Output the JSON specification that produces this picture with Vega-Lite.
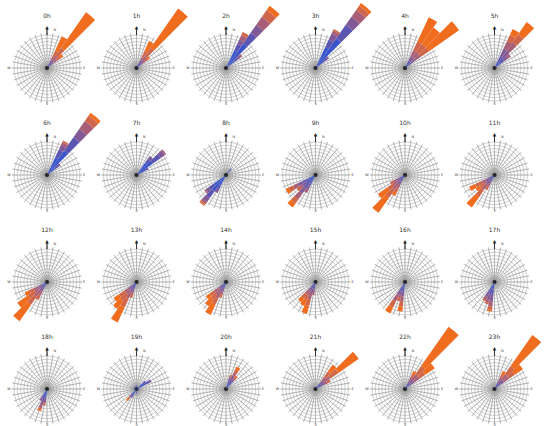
{
"$schema":"https://vega.github.io/schema/vega-lite/v6.json",
"padding":{"left":7,"top":2,"right":0,"bottom":0},
"background":"white",
"bounds":"flush",
"config":{"view":{"stroke":null},"font":"DejaVu Sans"},
"data":{"values":[
{"h":["0h","1h","2h","3h","4h","5h","6h","7h","8h","9h","10h","11h","12h","13h","14h","15h","16h","17h","18h","19h","20h","21h","22h","23h"],"a":0,"r":10},
{"h":["0h","1h","2h","3h","4h","5h","6h","7h","8h","9h","10h","11h","12h","13h","14h","15h","16h","17h","18h","19h","20h","21h","22h","23h"],"a":10,"r":9},
{"h":["0h","1h","2h","3h","4h","5h","6h","7h","8h","9h","10h","11h","12h","13h","14h","15h","16h","17h","18h","19h","20h","21h","22h","23h"],"a":20,"r":8},
{"h":["0h","1h","2h","3h","4h","5h","6h","7h","8h","9h","10h","11h","12h","13h","14h","15h","16h","17h","18h","19h","20h","21h","22h","23h"],"a":30,"r":7},
{"h":["0h","1h","2h","3h","4h","5h","6h","7h","8h","9h","10h","11h","12h","13h","14h","15h","16h","17h","18h","19h","20h","21h","22h","23h"],"a":40,"r":6},
{"h":["0h","1h","2h","3h","4h","5h","6h","7h","8h","9h","10h","11h","12h","13h","14h","15h","16h","17h","18h","19h","20h","21h","22h","23h"],"a":50,"r":5},
{"h":["0h","1h","2h","3h","4h","5h","6h","7h","8h","9h","10h","11h","12h","13h","14h","15h","16h","17h","18h","19h","20h","21h","22h","23h"],"a":60,"r":4},
{"h":["0h","1h","2h","3h","4h","5h","6h","7h","8h","9h","10h","11h","12h","13h","14h","15h","16h","17h","18h","19h","20h","21h","22h","23h"],"a":70,"r":3},
{"h":["0h","1h","2h","3h","4h","5h","6h","7h","8h","9h","10h","11h","12h","13h","14h","15h","16h","17h","18h","19h","20h","21h","22h","23h"],"a":80,"r":2},
{"h":["0h","1h","2h","3h","4h","5h","6h","7h","8h","9h","10h","11h","12h","13h","14h","15h","16h","17h","18h","19h","20h","21h","22h","23h"],"a":90,"r":1.5},
{"h":["0h","1h","2h","3h","4h","5h","6h","7h","8h","9h","10h","11h","12h","13h","14h","15h","16h","17h","18h","19h","20h","21h","22h","23h"],"a":100,"r":1},
{"h":["0h","1h","2h","3h","4h","5h","6h","7h","8h","9h","10h","11h","12h","13h","14h","15h","16h","17h","18h","19h","20h","21h","22h","23h"],"a":110,"r":0.75},
{"h":["0h","1h","2h","3h","4h","5h","6h","7h","8h","9h","10h","11h","12h","13h","14h","15h","16h","17h","18h","19h","20h","21h","22h","23h"],"a":120,"r":0.5},
{"h":["0h","1h","2h","3h","4h","5h","6h","7h","8h","9h","10h","11h","12h","13h","14h","15h","16h","17h","18h","19h","20h","21h","22h","23h"],"a":130,"r":0.25},
{"h":["0h","1h","2h","3h","4h","5h","6h","7h","8h","9h","10h","11h","12h","13h","14h","15h","16h","17h","18h","19h","20h","21h","22h","23h"],"a":140},
{"h":["0h","1h","2h","3h","4h","5h","6h","7h","8h","9h","10h","11h","12h","13h","14h","15h","16h","17h","18h","19h","20h","21h","22h","23h"],"a":150},
{"h":["0h","1h","2h","3h","4h","5h","6h","7h","8h","9h","10h","11h","12h","13h","14h","15h","16h","17h","18h","19h","20h","21h","22h","23h"],"a":160},
{"h":["0h","1h","2h","3h","4h","5h","6h","7h","8h","9h","10h","11h","12h","13h","14h","15h","16h","17h","18h","19h","20h","21h","22h","23h"],"a":170},
{"h":["0h","1h","2h","3h","4h","5h","6h","7h","8h","9h","10h","11h","12h","13h","14h","15h","16h","17h","18h","19h","20h","21h","22h","23h"],"a":180},
{"h":["0h","1h","2h","3h","4h","5h","6h","7h","8h","9h","10h","11h","12h","13h","14h","15h","16h","17h","18h","19h","20h","21h","22h","23h"],"a":190},
{"h":["0h","1h","2h","3h","4h","5h","6h","7h","8h","9h","10h","11h","12h","13h","14h","15h","16h","17h","18h","19h","20h","21h","22h","23h"],"a":200},
{"h":["0h","1h","2h","3h","4h","5h","6h","7h","8h","9h","10h","11h","12h","13h","14h","15h","16h","17h","18h","19h","20h","21h","22h","23h"],"a":210},
{"h":["0h","1h","2h","3h","4h","5h","6h","7h","8h","9h","10h","11h","12h","13h","14h","15h","16h","17h","18h","19h","20h","21h","22h","23h"],"a":220},
{"h":["0h","1h","2h","3h","4h","5h","6h","7h","8h","9h","10h","11h","12h","13h","14h","15h","16h","17h","18h","19h","20h","21h","22h","23h"],"a":230},
{"h":["0h","1h","2h","3h","4h","5h","6h","7h","8h","9h","10h","11h","12h","13h","14h","15h","16h","17h","18h","19h","20h","21h","22h","23h"],"a":240},
{"h":["0h","1h","2h","3h","4h","5h","6h","7h","8h","9h","10h","11h","12h","13h","14h","15h","16h","17h","18h","19h","20h","21h","22h","23h"],"a":250},
{"h":["0h","1h","2h","3h","4h","5h","6h","7h","8h","9h","10h","11h","12h","13h","14h","15h","16h","17h","18h","19h","20h","21h","22h","23h"],"a":260},
{"h":["0h","1h","2h","3h","4h","5h","6h","7h","8h","9h","10h","11h","12h","13h","14h","15h","16h","17h","18h","19h","20h","21h","22h","23h"],"a":270},
{"h":["0h","1h","2h","3h","4h","5h","6h","7h","8h","9h","10h","11h","12h","13h","14h","15h","16h","17h","18h","19h","20h","21h","22h","23h"],"a":280},
{"h":["0h","1h","2h","3h","4h","5h","6h","7h","8h","9h","10h","11h","12h","13h","14h","15h","16h","17h","18h","19h","20h","21h","22h","23h"],"a":290},
{"h":["0h","1h","2h","3h","4h","5h","6h","7h","8h","9h","10h","11h","12h","13h","14h","15h","16h","17h","18h","19h","20h","21h","22h","23h"],"a":300},
{"h":["0h","1h","2h","3h","4h","5h","6h","7h","8h","9h","10h","11h","12h","13h","14h","15h","16h","17h","18h","19h","20h","21h","22h","23h"],"a":310},
{"h":["0h","1h","2h","3h","4h","5h","6h","7h","8h","9h","10h","11h","12h","13h","14h","15h","16h","17h","18h","19h","20h","21h","22h","23h"],"a":320},
{"h":["0h","1h","2h","3h","4h","5h","6h","7h","8h","9h","10h","11h","12h","13h","14h","15h","16h","17h","18h","19h","20h","21h","22h","23h"],"a":330},
{"h":["0h","1h","2h","3h","4h","5h","6h","7h","8h","9h","10h","11h","12h","13h","14h","15h","16h","17h","18h","19h","20h","21h","22h","23h"],"a":340},
{"h":["0h","1h","2h","3h","4h","5h","6h","7h","8h","9h","10h","11h","12h","13h","14h","15h","16h","17h","18h","19h","20h","21h","22h","23h"],"a":350},

{"h":["0h"],"d":40,"c":1,"f":1},{"h":["0h"],"d":40,"c":2,"f":1},{"h":["0h"],"d":40,"c":3,"f":1},{"h":["0h"],"d":40,"c":4,"f":1.5},{"h":["0h"],"d":40,"c":5,"f":3},{"h":["0h"],"d":40,"c":6,"f":13.1},
{"h":["0h"],"d":30,"c":1,"f":0.8},{"h":["0h"],"d":30,"c":2,"f":0.8},{"h":["0h"],"d":30,"c":3,"f":1},{"h":["0h"],"d":30,"c":4,"f":1.2},{"h":["0h"],"d":30,"c":5,"f":2},{"h":["0h"],"d":30,"c":6,"f":4.8},
{"h":["0h"],"d":50,"c":1,"f":0.8},{"h":["0h"],"d":50,"c":2,"f":0.8},{"h":["0h"],"d":50,"c":3,"f":1},{"h":["0h"],"d":50,"c":4,"f":1.2},{"h":["0h"],"d":50,"c":5,"f":1.2},{"h":["0h"],"d":50,"c":6,"f":1},

{"h":["1h"],"d":40,"c":1,"f":1},{"h":["1h"],"d":40,"c":2,"f":1},{"h":["1h"],"d":40,"c":3,"f":1},{"h":["1h"],"d":40,"c":4,"f":1.5},{"h":["1h"],"d":40,"c":5,"f":3},{"h":["1h"],"d":40,"c":6,"f":14.5},
{"h":["1h"],"d":30,"c":1,"f":0.8},{"h":["1h"],"d":30,"c":2,"f":0.8},{"h":["1h"],"d":30,"c":3,"f":1},{"h":["1h"],"d":30,"c":4,"f":1.2},{"h":["1h"],"d":30,"c":5,"f":2},{"h":["1h"],"d":30,"c":6,"f":3.2},
{"h":["1h"],"d":50,"c":1,"f":0.8},{"h":["1h"],"d":50,"c":2,"f":0.8},{"h":["1h"],"d":50,"c":3,"f":0.8},{"h":["1h"],"d":50,"c":4,"f":1},{"h":["1h"],"d":50,"c":5,"f":1},{"h":["1h"],"d":50,"c":6,"f":0.6},

{"h":["2h"],"d":40,"c":1,"f":9},{"h":["2h"],"d":40,"c":2,"f":4},{"h":["2h"],"d":40,"c":3,"f":3},{"h":["2h"],"d":40,"c":4,"f":3},{"h":["2h"],"d":40,"c":5,"f":2.5},{"h":["2h"],"d":40,"c":6,"f":1.5},
{"h":["2h"],"d":30,"c":1,"f":6},{"h":["2h"],"d":30,"c":2,"f":2},{"h":["2h"],"d":30,"c":3,"f":1.5},{"h":["2h"],"d":30,"c":4,"f":1.5},{"h":["2h"],"d":30,"c":5,"f":1},
{"h":["2h"],"d":50,"c":1,"f":3},{"h":["2h"],"d":50,"c":2,"f":1.5},{"h":["2h"],"d":50,"c":3,"f":1},{"h":["2h"],"d":50,"c":4,"f":0.5},

{"h":["3h"],"d":40,"c":1,"f":11},{"h":["3h"],"d":40,"c":2,"f":5},{"h":["3h"],"d":40,"c":3,"f":3},{"h":["3h"],"d":40,"c":4,"f":2.5},{"h":["3h"],"d":40,"c":5,"f":1.5},{"h":["3h"],"d":40,"c":6,"f":1},
{"h":["3h"],"d":30,"c":1,"f":7},{"h":["3h"],"d":30,"c":2,"f":2.5},{"h":["3h"],"d":30,"c":3,"f":2},{"h":["3h"],"d":30,"c":4,"f":1},{"h":["3h"],"d":30,"c":5,"f":0.5},
{"h":["3h"],"d":50,"c":1,"f":3},{"h":["3h"],"d":50,"c":2,"f":1.5},{"h":["3h"],"d":50,"c":3,"f":0.5},

{"h":["4h"],"d":30,"c":1,"f":1.2},{"h":["4h"],"d":30,"c":2,"f":1.2},{"h":["4h"],"d":30,"c":3,"f":1.5},{"h":["4h"],"d":30,"c":4,"f":2},{"h":["4h"],"d":30,"c":5,"f":3},{"h":["4h"],"d":30,"c":6,"f":8.1},
{"h":["4h"],"d":40,"c":1,"f":1.2},{"h":["4h"],"d":40,"c":2,"f":1.2},{"h":["4h"],"d":40,"c":3,"f":1.5},{"h":["4h"],"d":40,"c":4,"f":2},{"h":["4h"],"d":40,"c":5,"f":3},{"h":["4h"],"d":40,"c":6,"f":6.1},
{"h":["4h"],"d":50,"c":1,"f":1.2},{"h":["4h"],"d":50,"c":2,"f":1.2},{"h":["4h"],"d":50,"c":3,"f":1.5},{"h":["4h"],"d":50,"c":4,"f":2},{"h":["4h"],"d":50,"c":5,"f":3},{"h":["4h"],"d":50,"c":6,"f":11.1},

{"h":["5h"],"d":30,"c":1,"f":2},{"h":["5h"],"d":30,"c":2,"f":2},{"h":["5h"],"d":30,"c":3,"f":2.5},{"h":["5h"],"d":30,"c":4,"f":2.5},{"h":["5h"],"d":30,"c":5,"f":2},{"h":["5h"],"d":30,"c":6,"f":2},
{"h":["5h"],"d":40,"c":1,"f":2},{"h":["5h"],"d":40,"c":2,"f":2},{"h":["5h"],"d":40,"c":3,"f":2.5},{"h":["5h"],"d":40,"c":4,"f":3},{"h":["5h"],"d":40,"c":5,"f":3},{"h":["5h"],"d":40,"c":6,"f":4.5},
{"h":["5h"],"d":50,"c":1,"f":2},{"h":["5h"],"d":50,"c":2,"f":1.5},{"h":["5h"],"d":50,"c":3,"f":1.5},{"h":["5h"],"d":50,"c":4,"f":1},

{"h":["6h"],"d":40,"c":1,"f":9},{"h":["6h"],"d":40,"c":2,"f":5},{"h":["6h"],"d":40,"c":3,"f":3},{"h":["6h"],"d":40,"c":4,"f":3},{"h":["6h"],"d":40,"c":5,"f":2},{"h":["6h"],"d":40,"c":6,"f":1},
{"h":["6h"],"d":30,"c":1,"f":6},{"h":["6h"],"d":30,"c":2,"f":2.5},{"h":["6h"],"d":30,"c":3,"f":1.5},{"h":["6h"],"d":30,"c":4,"f":1},{"h":["6h"],"d":30,"c":5,"f":0.5},
{"h":["6h"],"d":50,"c":1,"f":3},{"h":["6h"],"d":50,"c":2,"f":1.5},{"h":["6h"],"d":50,"c":3,"f":0.5},

{"h":["7h"],"d":50,"c":1,"f":6},{"h":["7h"],"d":50,"c":2,"f":3},{"h":["7h"],"d":50,"c":3,"f":1.5},{"h":["7h"],"d":50,"c":4,"f":0.5},
{"h":["7h"],"d":40,"c":1,"f":4.5},{"h":["7h"],"d":40,"c":2,"f":1.5},{"h":["7h"],"d":40,"c":3,"f":1},
{"h":["7h"],"d":60,"c":1,"f":3},{"h":["7h"],"d":60,"c":2,"f":1},

{"h":["8h"],"d":220,"c":1,"f":6},{"h":["8h"],"d":220,"c":2,"f":2.5},{"h":["8h"],"d":220,"c":3,"f":1.5},{"h":["8h"],"d":220,"c":4,"f":0.8},{"h":["8h"],"d":220,"c":5,"f":0.4},{"h":["8h"],"d":220,"c":6,"f":0.3},
{"h":["8h"],"d":230,"c":1,"f":4.5},{"h":["8h"],"d":230,"c":2,"f":2},{"h":["8h"],"d":230,"c":3,"f":1},{"h":["8h"],"d":230,"c":4,"f":0.5},
{"h":["8h"],"d":210,"c":1,"f":3.5},{"h":["8h"],"d":210,"c":2,"f":1.5},{"h":["8h"],"d":210,"c":3,"f":1},
{"h":["8h"],"d":40,"c":1,"f":2},{"h":["8h"],"d":40,"c":2,"f":0.5},

{"h":["9h"],"d":220,"c":1,"f":3},{"h":["9h"],"d":220,"c":2,"f":2},{"h":["9h"],"d":220,"c":3,"f":2},{"h":["9h"],"d":220,"c":4,"f":2},{"h":["9h"],"d":220,"c":5,"f":1.5},{"h":["9h"],"d":220,"c":6,"f":1.5},
{"h":["9h"],"d":240,"c":1,"f":2.5},{"h":["9h"],"d":240,"c":2,"f":2},{"h":["9h"],"d":240,"c":3,"f":1.5},{"h":["9h"],"d":240,"c":4,"f":1.5},{"h":["9h"],"d":240,"c":5,"f":1.5},{"h":["9h"],"d":240,"c":6,"f":1},
{"h":["9h"],"d":230,"c":1,"f":2},{"h":["9h"],"d":230,"c":2,"f":1.5},{"h":["9h"],"d":230,"c":3,"f":1.5},{"h":["9h"],"d":230,"c":4,"f":1},{"h":["9h"],"d":230,"c":5,"f":1},
{"h":["9h"],"d":210,"c":1,"f":2},{"h":["9h"],"d":210,"c":2,"f":1.5},{"h":["9h"],"d":210,"c":3,"f":1.5},{"h":["9h"],"d":210,"c":4,"f":1},

{"h":["10h"],"d":220,"c":1,"f":1},{"h":["10h"],"d":220,"c":2,"f":1},{"h":["10h"],"d":220,"c":3,"f":1.5},{"h":["10h"],"d":220,"c":4,"f":2},{"h":["10h"],"d":220,"c":5,"f":3},{"h":["10h"],"d":220,"c":6,"f":5.5},
{"h":["10h"],"d":230,"c":1,"f":1},{"h":["10h"],"d":230,"c":2,"f":1},{"h":["10h"],"d":230,"c":3,"f":1},{"h":["10h"],"d":230,"c":4,"f":1.5},{"h":["10h"],"d":230,"c":5,"f":2},{"h":["10h"],"d":230,"c":6,"f":3.5},
{"h":["10h"],"d":210,"c":1,"f":1},{"h":["10h"],"d":210,"c":2,"f":1},{"h":["10h"],"d":210,"c":3,"f":1},{"h":["10h"],"d":210,"c":4,"f":1.5},{"h":["10h"],"d":210,"c":5,"f":1.5},{"h":["10h"],"d":210,"c":6,"f":1},
{"h":["10h"],"d":240,"c":1,"f":1},{"h":["10h"],"d":240,"c":2,"f":1},{"h":["10h"],"d":240,"c":3,"f":1},{"h":["10h"],"d":240,"c":4,"f":1},{"h":["10h"],"d":240,"c":5,"f":1},

{"h":["11h"],"d":220,"c":1,"f":1},{"h":["11h"],"d":220,"c":2,"f":1},{"h":["11h"],"d":220,"c":3,"f":1.5},{"h":["11h"],"d":220,"c":4,"f":2},{"h":["11h"],"d":220,"c":5,"f":2.5},{"h":["11h"],"d":220,"c":6,"f":4},
{"h":["11h"],"d":240,"c":1,"f":1},{"h":["11h"],"d":240,"c":2,"f":1},{"h":["11h"],"d":240,"c":3,"f":1},{"h":["11h"],"d":240,"c":4,"f":1.5},{"h":["11h"],"d":240,"c":5,"f":2},{"h":["11h"],"d":240,"c":6,"f":2},
{"h":["11h"],"d":230,"c":1,"f":1},{"h":["11h"],"d":230,"c":2,"f":1},{"h":["11h"],"d":230,"c":3,"f":1},{"h":["11h"],"d":230,"c":4,"f":1},{"h":["11h"],"d":230,"c":5,"f":1.5},{"h":["11h"],"d":230,"c":6,"f":1.5},
{"h":["11h"],"d":210,"c":1,"f":1},{"h":["11h"],"d":210,"c":2,"f":1},{"h":["11h"],"d":210,"c":3,"f":1},{"h":["11h"],"d":210,"c":4,"f":1},{"h":["11h"],"d":210,"c":5,"f":1},

{"h":["12h"],"d":220,"c":1,"f":1},{"h":["12h"],"d":220,"c":2,"f":1},{"h":["12h"],"d":220,"c":3,"f":1.5},{"h":["12h"],"d":220,"c":4,"f":2},{"h":["12h"],"d":220,"c":5,"f":3},{"h":["12h"],"d":220,"c":6,"f":6},
{"h":["12h"],"d":230,"c":1,"f":1},{"h":["12h"],"d":230,"c":2,"f":1},{"h":["12h"],"d":230,"c":3,"f":1},{"h":["12h"],"d":230,"c":4,"f":1.5},{"h":["12h"],"d":230,"c":5,"f":2.5},{"h":["12h"],"d":230,"c":6,"f":4},
{"h":["12h"],"d":240,"c":1,"f":1},{"h":["12h"],"d":240,"c":2,"f":1},{"h":["12h"],"d":240,"c":3,"f":1},{"h":["12h"],"d":240,"c":4,"f":1.5},{"h":["12h"],"d":240,"c":5,"f":1.5},{"h":["12h"],"d":240,"c":6,"f":1.5},
{"h":["12h"],"d":210,"c":1,"f":1},{"h":["12h"],"d":210,"c":2,"f":1},{"h":["12h"],"d":210,"c":3,"f":1},{"h":["12h"],"d":210,"c":4,"f":1.5},{"h":["12h"],"d":210,"c":5,"f":1.5},

{"h":["13h"],"d":210,"c":1,"f":1},{"h":["13h"],"d":210,"c":2,"f":1},{"h":["13h"],"d":210,"c":3,"f":1.5},{"h":["13h"],"d":210,"c":4,"f":2},{"h":["13h"],"d":210,"c":5,"f":3},{"h":["13h"],"d":210,"c":6,"f":5},
{"h":["13h"],"d":220,"c":1,"f":1},{"h":["13h"],"d":220,"c":2,"f":1},{"h":["13h"],"d":220,"c":3,"f":1},{"h":["13h"],"d":220,"c":4,"f":1.5},{"h":["13h"],"d":220,"c":5,"f":2.5},{"h":["13h"],"d":220,"c":6,"f":3},
{"h":["13h"],"d":230,"c":1,"f":1},{"h":["13h"],"d":230,"c":2,"f":1},{"h":["13h"],"d":230,"c":3,"f":1},{"h":["13h"],"d":230,"c":4,"f":1.5},{"h":["13h"],"d":230,"c":5,"f":2},{"h":["13h"],"d":230,"c":6,"f":2},
{"h":["13h"],"d":200,"c":1,"f":1},{"h":["13h"],"d":200,"c":2,"f":1},{"h":["13h"],"d":200,"c":3,"f":1},{"h":["13h"],"d":200,"c":4,"f":1},{"h":["13h"],"d":200,"c":5,"f":1},

{"h":["14h"],"d":210,"c":1,"f":1},{"h":["14h"],"d":210,"c":2,"f":1},{"h":["14h"],"d":210,"c":3,"f":1.5},{"h":["14h"],"d":210,"c":4,"f":2},{"h":["14h"],"d":210,"c":5,"f":2},{"h":["14h"],"d":210,"c":6,"f":3.5},
{"h":["14h"],"d":220,"c":1,"f":1},{"h":["14h"],"d":220,"c":2,"f":1},{"h":["14h"],"d":220,"c":3,"f":1},{"h":["14h"],"d":220,"c":4,"f":1.5},{"h":["14h"],"d":220,"c":5,"f":2},{"h":["14h"],"d":220,"c":6,"f":2.5},
{"h":["14h"],"d":230,"c":1,"f":1},{"h":["14h"],"d":230,"c":2,"f":1},{"h":["14h"],"d":230,"c":3,"f":1},{"h":["14h"],"d":230,"c":4,"f":1.5},{"h":["14h"],"d":230,"c":5,"f":1.5},{"h":["14h"],"d":230,"c":6,"f":1.5},
{"h":["14h"],"d":200,"c":1,"f":1},{"h":["14h"],"d":200,"c":2,"f":1},{"h":["14h"],"d":200,"c":3,"f":1},{"h":["14h"],"d":200,"c":4,"f":1},{"h":["14h"],"d":200,"c":5,"f":1},

{"h":["15h"],"d":200,"c":1,"f":1},{"h":["15h"],"d":200,"c":2,"f":1},{"h":["15h"],"d":200,"c":3,"f":1.5},{"h":["15h"],"d":200,"c":4,"f":2},{"h":["15h"],"d":200,"c":5,"f":2},{"h":["15h"],"d":200,"c":6,"f":2.5},
{"h":["15h"],"d":210,"c":1,"f":1},{"h":["15h"],"d":210,"c":2,"f":1},{"h":["15h"],"d":210,"c":3,"f":1},{"h":["15h"],"d":210,"c":4,"f":1.5},{"h":["15h"],"d":210,"c":5,"f":1.5},{"h":["15h"],"d":210,"c":6,"f":2},
{"h":["15h"],"d":220,"c":1,"f":1},{"h":["15h"],"d":220,"c":2,"f":1},{"h":["15h"],"d":220,"c":3,"f":1},{"h":["15h"],"d":220,"c":4,"f":1.5},{"h":["15h"],"d":220,"c":5,"f":1.5},{"h":["15h"],"d":220,"c":6,"f":1.5},
{"h":["15h"],"d":190,"c":1,"f":1},{"h":["15h"],"d":190,"c":2,"f":1},{"h":["15h"],"d":190,"c":3,"f":1},{"h":["15h"],"d":190,"c":4,"f":1},

{"h":["16h"],"d":210,"c":1,"f":1.5},{"h":["16h"],"d":210,"c":2,"f":1.5},{"h":["16h"],"d":210,"c":3,"f":1.5},{"h":["16h"],"d":210,"c":4,"f":2},{"h":["16h"],"d":210,"c":5,"f":2},{"h":["16h"],"d":210,"c":6,"f":2},
{"h":["16h"],"d":190,"c":1,"f":1.5},{"h":["16h"],"d":190,"c":2,"f":1.5},{"h":["16h"],"d":190,"c":3,"f":1.5},{"h":["16h"],"d":190,"c":4,"f":1.5},{"h":["16h"],"d":190,"c":5,"f":1.5},{"h":["16h"],"d":190,"c":6,"f":1.5},
{"h":["16h"],"d":200,"c":1,"f":1.5},{"h":["16h"],"d":200,"c":2,"f":1.5},{"h":["16h"],"d":200,"c":3,"f":1},{"h":["16h"],"d":200,"c":4,"f":1},{"h":["16h"],"d":200,"c":5,"f":1},

{"h":["17h"],"d":190,"c":1,"f":2},{"h":["17h"],"d":190,"c":2,"f":2},{"h":["17h"],"d":190,"c":3,"f":2},{"h":["17h"],"d":190,"c":4,"f":1.5},{"h":["17h"],"d":190,"c":5,"f":1},{"h":["17h"],"d":190,"c":6,"f":0.5},
{"h":["17h"],"d":200,"c":1,"f":2},{"h":["17h"],"d":200,"c":2,"f":2},{"h":["17h"],"d":200,"c":3,"f":1.5},{"h":["17h"],"d":200,"c":4,"f":1},{"h":["17h"],"d":200,"c":5,"f":0.5},
{"h":["17h"],"d":210,"c":1,"f":2},{"h":["17h"],"d":210,"c":2,"f":1.5},{"h":["17h"],"d":210,"c":3,"f":1.5},{"h":["17h"],"d":210,"c":4,"f":1},{"h":["17h"],"d":210,"c":5,"f":0.5},

{"h":["18h"],"d":200,"c":1,"f":2},{"h":["18h"],"d":200,"c":2,"f":1.5},{"h":["18h"],"d":200,"c":3,"f":1.5},{"h":["18h"],"d":200,"c":4,"f":1},{"h":["18h"],"d":200,"c":5,"f":0.5},{"h":["18h"],"d":200,"c":6,"f":0.5},
{"h":["18h"],"d":190,"c":1,"f":2},{"h":["18h"],"d":190,"c":2,"f":1},{"h":["18h"],"d":190,"c":3,"f":1},{"h":["18h"],"d":190,"c":4,"f":0.5},{"h":["18h"],"d":190,"c":5,"f":0.5},
{"h":["18h"],"d":210,"c":1,"f":2},{"h":["18h"],"d":210,"c":2,"f":1},{"h":["18h"],"d":210,"c":3,"f":1},

{"h":["19h"],"d":60,"c":1,"f":3},{"h":["19h"],"d":60,"c":2,"f":1.5},{"h":["19h"],"d":60,"c":3,"f":0.5},
{"h":["19h"],"d":50,"c":1,"f":2.5},{"h":["19h"],"d":50,"c":2,"f":1},
{"h":["19h"],"d":220,"c":1,"f":1.5},{"h":["19h"],"d":220,"c":2,"f":1},{"h":["19h"],"d":220,"c":3,"f":0.5},{"h":["19h"],"d":220,"c":4,"f":0.5},{"h":["19h"],"d":220,"c":5,"f":0.5},{"h":["19h"],"d":220,"c":6,"f":0.5},
{"h":["19h"],"d":210,"c":1,"f":2},{"h":["19h"],"d":210,"c":2,"f":0.5},{"h":["19h"],"d":210,"c":3,"f":0.5},
{"h":["19h"],"d":0,"c":1,"f":1.2},{"h":["19h"],"d":90,"c":1,"f":1.2},{"h":["19h"],"d":120,"c":1,"f":1},{"h":["19h"],"d":180,"c":1,"f":1.5},{"h":["19h"],"d":270,"c":1,"f":1.2},{"h":["19h"],"d":300,"c":1,"f":1},{"h":["19h"],"d":330,"c":1,"f":1},

{"h":["20h"],"d":30,"c":1,"f":1.5},{"h":["20h"],"d":30,"c":2,"f":1.5},{"h":["20h"],"d":30,"c":3,"f":1.5},{"h":["20h"],"d":30,"c":4,"f":1},{"h":["20h"],"d":30,"c":5,"f":1},{"h":["20h"],"d":30,"c":6,"f":1},
{"h":["20h"],"d":40,"c":1,"f":1.5},{"h":["20h"],"d":40,"c":2,"f":1},{"h":["20h"],"d":40,"c":3,"f":1},{"h":["20h"],"d":40,"c":4,"f":0.5},{"h":["20h"],"d":40,"c":5,"f":0.5},{"h":["20h"],"d":40,"c":6,"f":0.5},
{"h":["20h"],"d":20,"c":1,"f":1.5},{"h":["20h"],"d":20,"c":2,"f":1},{"h":["20h"],"d":20,"c":3,"f":1},{"h":["20h"],"d":20,"c":4,"f":0.5},{"h":["20h"],"d":20,"c":5,"f":0.5},

{"h":["21h"],"d":50,"c":1,"f":1},{"h":["21h"],"d":50,"c":2,"f":1},{"h":["21h"],"d":50,"c":3,"f":1.5},{"h":["21h"],"d":50,"c":4,"f":2},{"h":["21h"],"d":50,"c":5,"f":3},{"h":["21h"],"d":50,"c":6,"f":7.5},
{"h":["21h"],"d":40,"c":1,"f":1},{"h":["21h"],"d":40,"c":2,"f":1},{"h":["21h"],"d":40,"c":3,"f":1},{"h":["21h"],"d":40,"c":4,"f":1.5},{"h":["21h"],"d":40,"c":5,"f":2},{"h":["21h"],"d":40,"c":6,"f":2.5},
{"h":["21h"],"d":60,"c":1,"f":1},{"h":["21h"],"d":60,"c":2,"f":1},{"h":["21h"],"d":60,"c":3,"f":1},{"h":["21h"],"d":60,"c":4,"f":1},{"h":["21h"],"d":60,"c":5,"f":1},

{"h":["22h"],"d":40,"c":1,"f":1},{"h":["22h"],"d":40,"c":2,"f":1},{"h":["22h"],"d":40,"c":3,"f":1.5},{"h":["22h"],"d":40,"c":4,"f":2},{"h":["22h"],"d":40,"c":5,"f":3},{"h":["22h"],"d":40,"c":6,"f":14.5},
{"h":["22h"],"d":50,"c":1,"f":1},{"h":["22h"],"d":50,"c":2,"f":1},{"h":["22h"],"d":50,"c":3,"f":1.5},{"h":["22h"],"d":50,"c":4,"f":2},{"h":["22h"],"d":50,"c":5,"f":2},{"h":["22h"],"d":50,"c":6,"f":3.5},
{"h":["22h"],"d":30,"c":1,"f":1},{"h":["22h"],"d":30,"c":2,"f":1},{"h":["22h"],"d":30,"c":3,"f":1},{"h":["22h"],"d":30,"c":4,"f":1},{"h":["22h"],"d":30,"c":5,"f":1},{"h":["22h"],"d":30,"c":6,"f":1},

{"h":["23h"],"d":40,"c":1,"f":1},{"h":["23h"],"d":40,"c":2,"f":1},{"h":["23h"],"d":40,"c":3,"f":1.5},{"h":["23h"],"d":40,"c":4,"f":2},{"h":["23h"],"d":40,"c":5,"f":3},{"h":["23h"],"d":40,"c":6,"f":11.5},
{"h":["23h"],"d":50,"c":1,"f":1},{"h":["23h"],"d":50,"c":2,"f":1},{"h":["23h"],"d":50,"c":3,"f":1.5},{"h":["23h"],"d":50,"c":4,"f":2},{"h":["23h"],"d":50,"c":5,"f":2},{"h":["23h"],"d":50,"c":6,"f":3},
{"h":["23h"],"d":30,"c":1,"f":1},{"h":["23h"],"d":30,"c":2,"f":1},{"h":["23h"],"d":30,"c":3,"f":1},{"h":["23h"],"d":30,"c":4,"f":1},{"h":["23h"],"d":30,"c":5,"f":1},{"h":["23h"],"d":30,"c":6,"f":1}
]},
"transform":[{"flatten":["h"]}],
"facet":{"field":"h","type":"ordinal","title":null,"sort":["0h","1h","2h","3h","4h","5h","6h","7h","8h","9h","10h","11h","12h","13h","14h","15h","16h","17h","18h","19h","20h","21h","22h","23h"],"header":{"title":null,"labelExpr":"''","labelFontSize":1,"labelPadding":0}},
"columns":6,
"spacing":{"row":31,"column":9.5},
"spec":{
"width":80,"height":76,
"resolve":{"scale":{"theta":"independent"}},
"layer":[
{"transform":[{"filter":{"field":"r","valid":true}}],
 "mark":{"type":"arc","filled":false,"stroke":"#999999","strokeWidth":0.45,"theta":0,"theta2":6.2832},
 "encoding":{"radius":{"field":"r","type":"quantitative","stack":null,"scale":{"type":"linear","domain":[0,10],"range":[0,33],"zero":true,"nice":false}}}},
{"transform":[{"filter":{"field":"a","valid":true}}],
 "mark":{"type":"arc","filled":false,"stroke":"#999999","strokeWidth":0.45,"radius":35,"radius2":0},
 "encoding":{"theta":{"field":"a","type":"ordinal","scale":{"type":"band","domain":[0,10,20,30,40,50,60,70,80,90,100,110,120,130,140,150,160,170,180,190,200,210,220,230,240,250,260,270,280,290,300,310,320,330,340,350],"range":[-0.0873,6.1959],"paddingInner":0.99,"paddingOuter":0.495}}}},
{"transform":[{"filter":"datum.a === 0"}],
 "mark":{"type":"arc","fill":"#222222","radius":2,"radius2":0,"theta":0,"theta2":6.2832},
 "encoding":{}},
{"transform":[{"filter":"datum.a === 0"}],
 "mark":{"type":"arc","filled":false,"stroke":"#222222","strokeWidth":0.7,"radius":40,"radius2":33,"theta":0,"theta2":0.0005},
 "encoding":{}},
{"transform":[{"filter":"datum.a === 0"}],
 "mark":{"type":"text","text":"▲","fontSize":4.5,"theta":0,"radius":40,"fill":"#222222","baseline":"middle","align":"center"},
 "encoding":{}},
{"transform":[{"filter":"datum.a === 0"}],
 "mark":{"type":"text","text":"N","fontSize":3.5,"theta":0.2,"radius":39,"fill":"#444444","baseline":"middle","align":"center"},
 "encoding":{}},
{"transform":[{"filter":"datum.a === 0"}],
 "mark":{"type":"text","text":"W","fontSize":3.5,"theta":4.7124,"radius":38,"fill":"#444444","baseline":"middle","align":"center"},
 "encoding":{}},
{"transform":[{"filter":"datum.a === 0"}],
 "mark":{"type":"text","text":"E","fontSize":3.5,"theta":1.5708,"radius":37,"fill":"#444444","baseline":"middle","align":"center"},
 "encoding":{}},
{"transform":[{"filter":"datum.a === 0"}],
 "mark":{"type":"text","text":"S","fontSize":3.5,"theta":3.1416,"radius":35.5,"fill":"#444444","baseline":"middle","align":"center"},
 "encoding":{}},
{"transform":[{"filter":"datum.a === 0"}],
 "mark":{"type":"text","fontSize":6,"theta":0,"radius":52,"fill":"#333333","baseline":"middle","align":"center"},
 "encoding":{"text":{"field":"h"}}},
{"transform":[{"filter":{"field":"d","valid":true}},{"stack":"f","groupby":["h","d"],"sort":[{"field":"c","order":"ascending"}],"as":["r0","r1"]}],
 "mark":{"type":"arc"},
 "encoding":{
  "theta":{"field":"d","type":"ordinal","scale":{"type":"band","domain":[0,10,20,30,40,50,60,70,80,90,100,110,120,130,140,150,160,170,180,190,200,210,220,230,240,250,260,270,280,290,300,310,320,330,340,350],"range":[-0.0873,6.1959],"paddingInner":0,"paddingOuter":0}},
  "radius":{"field":"r1","type":"quantitative","scale":{"type":"linear","domain":[0,10],"range":[0,33],"zero":true,"nice":false}},
  "radius2":{"field":"r0"},
  "color":{"field":"c","type":"ordinal","scale":{"domain":[1,2,3,4,5,6],"range":["#3a55c9","#5c56b3","#805996","#a75e76","#cf6549","#f06c1e"]},"legend":null}
 }}
]}
}
